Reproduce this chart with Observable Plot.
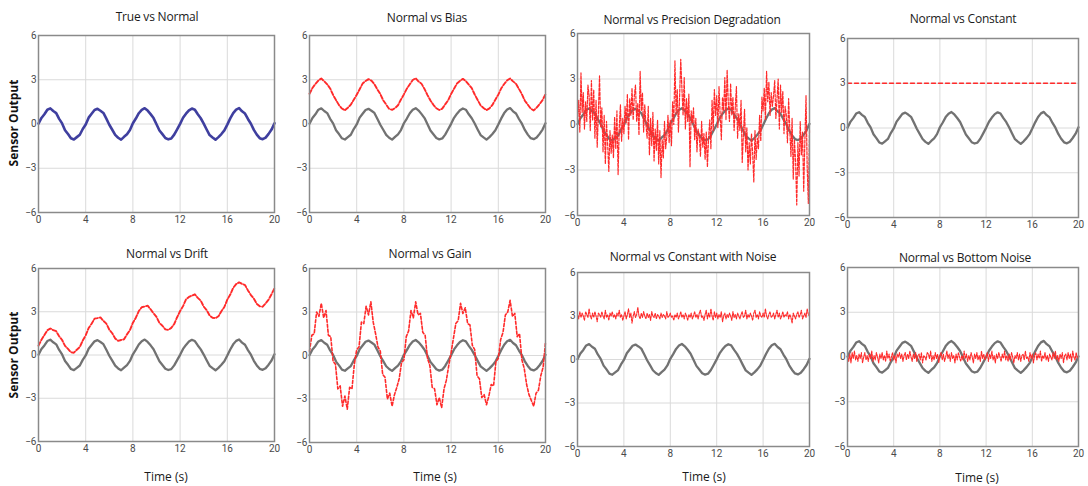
<!DOCTYPE html>
<html>
<head>
<meta charset="utf-8">
<script src="https://cdn.jsdelivr.net/npm/d3@7"></script>
<script src="https://cdn.jsdelivr.net/npm/@observablehq/plot@0.6"></script>
<style>
  html, body { margin: 0; padding: 0; background: #fff; }
  #root { position: relative; width: 1088px; height: 486px; overflow: hidden; background: #fff; font-family: "Open Sans", Roboto, sans-serif; }
  .ttl { position: absolute; font-size: 12px; color: #1a1a1a; white-space: nowrap; transform: translate(-50%, -50%); letter-spacing: -0.2px; }
  .xl { position: absolute; font-size: 12px; color: #1a1a1a; white-space: nowrap; transform: translate(-50%, -50%); }
  .yl { position: absolute; font-size: 12px; font-weight: bold; color: #111; white-space: nowrap; transform: translate(-50%, -50%) rotate(-90deg); }
  svg { position: absolute; overflow: visible; }
</style>
</head>
<body>
<div id="root"></div>
<script>
// ---- tick labels ----
const xTicks = [0, 4, 8, 12, 16, 20];
const yTicks = [-6, -3, 0, 3, 6];

// ---- panel titles ----
const titles = ["True vs Normal", "Normal vs Bias", "Normal vs Precision Degradation", "Normal vs Constant",
                "Normal vs Drift", "Normal vs Gain", "Normal vs Constant with Noise", "Normal vs Bottom Noise"];

// sample spacing (s) of each series
const stepCoarse = 0.25;
const stepGain = 0.2;
const stepFine = 0.1;

// normal sensor output (every 0.25 s)
const normal = [
  0.02, 0.41, 0.66, 0.97, 1.06, 0.88, 0.74, 0.35, 0.04, -0.42, -0.68, -0.97, -1.05, -0.89, -0.73, -0.34,
  -0.03, 0.43, 0.69, 0.95, 1.03, 0.90, 0.75, 0.36, -0.05, -0.39, -0.74, -0.93, -1.06, -0.87, -0.70, -0.41,
  0.05, 0.37, 0.73, 0.96, 1.07, 0.91, 0.67, 0.40, -0.02, -0.44, -0.69, -0.95, -1.04, -0.98, -0.72, -0.36,
  0.01, 0.42, 0.70, 0.93, 1.05, 0.97, 0.66, 0.39, 0.03, -0.37, -0.75, -0.91, -1.06, -0.89, -0.68, -0.43,
  -0.04, 0.38, 0.74, 0.98, 1.08, 0.86, 0.71, 0.34, 0.02, -0.40, -0.72, -0.96, -1.03, -0.92, -0.67, -0.38,
  0.05
];

// bias fault (every 0.25 s)
const bias = [
  2.05, 2.44, 2.72, 2.95, 3.08, 2.90, 2.69, 2.41, 1.97, 1.62, 1.28, 1.05, 0.93, 1.10, 1.31, 1.64,
  1.98, 2.36, 2.74, 2.91, 3.04, 2.94, 2.70, 2.35, 2.03, 1.60, 1.32, 1.02, 0.96, 1.08, 1.27, 1.66,
  2.01, 2.40, 2.69, 2.98, 3.10, 2.88, 2.72, 2.37, 1.96, 1.59, 1.30, 1.07, 0.95, 1.04, 1.33, 1.61,
  2.04, 2.39, 2.75, 2.92, 3.06, 2.91, 2.67, 2.43, 2.00, 1.63, 1.26, 1.09, 0.94, 1.06, 1.29, 1.65,
  1.99, 2.42, 2.71, 2.96, 3.09, 2.89, 2.73, 2.38, 2.02, 1.58, 1.31, 1.04, 0.92, 1.11, 1.35, 1.62,
  2.02
];

// drift fault (every 0.25 s)
const drift = [
  0.65, 1.06, 1.38, 1.71, 1.84, 1.73, 1.65, 1.30, 1.04, 0.63, 0.42, 0.19, 0.16, 0.37, 0.55, 1.01,
  1.36, 1.87, 2.17, 2.52, 2.56, 2.61, 2.37, 2.18, 1.76, 1.51, 1.15, 0.98, 1.04, 1.09, 1.43, 1.73,
  2.24, 2.59, 3.05, 3.31, 3.36, 3.42, 3.17, 2.89, 2.64, 2.22, 2.03, 1.78, 1.74, 1.88, 2.15, 2.62,
  3.05, 3.39, 3.86, 4.03, 4.12, 4.21, 3.96, 3.77, 3.36, 3.11, 2.74, 2.58, 2.55, 2.69, 3.04, 3.33,
  3.84, 4.19, 4.66, 4.92, 5.04, 4.93, 4.85, 4.48, 4.16, 3.91, 3.55, 3.38, 3.35, 3.58, 3.84, 4.22,
  4.63
];

// gain fault (every 0.2 s)
const gain = [
  0.3, 1.4, 1.5, 3.0, 2.7, 3.6, 2.6, 3.1, 1.4, 1.3, -0.4, -0.6, -2.3, -2.1, -3.5, -2.8, -3.7, -2.2, -2.3, -0.6,
  0.4, 0.6, 2.3, 2.2, 3.4, 2.8, 3.7, 2.3, 1.5, 0.6, 0.3, -1.3, -1.5, -3.0, -2.6, -3.5, -2.7, -2.2, -1.6, -0.5,
  -0.3, 1.3, 1.7, 3.1, 2.6, 3.7, 2.8, 2.9, 1.6, 1.4, -0.2, -0.7, -2.2, -2.3, -3.4, -2.9, -3.6, -2.3, -1.7, -0.7,
  0.2, 1.2, 2.2, 2.4, 3.6, 2.9, 3.3, 2.2, 2.1, 0.7, 0.4, -1.4, -1.6, -2.9, -2.7, -3.4, -2.8, -2.0, -2.1, -0.4,
  -0.2, 1.1, 1.6, 2.8, 3.0, 3.8, 2.7, 2.9, 1.3, 1.5, -0.3, -0.9, -2.0, -2.7, -3.1, -3.5, -2.6, -2.4, -1.4, -0.8,
  0.9
];

// precision degradation fault (every 0.1 s)
const precision = [
  0.4, 1.6, -0.5, 3.4, 0.8, 2.1, -0.3, 1.5, 0.2, 2.6,
  1.9, -0.4, 2.9, 0.3, 2.3, -0.9, 1.6, -1.5, 0.8, 3.2,
  -0.2, 1.1, -1.8, 0.6, -2.6, 0.2, -1.3, -3.1, -0.4, -1.9,
  -0.7, -2.2, 0.5, -1.6, 0.9, -3.3, -0.2, 1.3, -1.1, 0.4,
  -0.6, 1.2, 0.1, 2.0, -1.0, 1.7, 0.6, 2.4, 0.3, 1.9,
  2.6, 0.2, 1.4, -0.7, 3.5, 0.9, 2.1, -0.5, 1.3, 0.0,
  -0.9, 1.2, -2.0, 0.4, -1.4, 0.8, -2.4, -0.3, -1.7, 0.3,
  -2.6, -0.4, -3.5, -1.0, -2.2, 0.2, -1.6, -0.8, 0.6, -1.2,
  0.3, -1.4, 1.5, 0.0, 4.2, 0.7, 2.3, -0.5, 1.8, 4.3,
  2.4, 0.6, 3.1, -0.3, 1.7, 0.2, 2.0, -2.8, 0.9, 0.1,
  1.1, -1.0, 0.4, -1.8, -0.3, -0.8, -2.1, 0.2, -1.5, -0.6,
  -2.3, -0.5, -2.8, -0.9, 0.3, -1.6, 1.6, -0.4, 2.3, 0.6,
  1.9, -0.2, 2.5, 0.6, -1.0, 1.8, 0.9, 3.1, 0.3, 3.6,
  1.4, 0.2, 2.7, 0.6, 1.8, -0.4, 1.1, 2.5, -0.9, 0.7,
  -0.4, 1.6, -2.5, -0.7, 1.0, -1.8, -0.2, -3.0, -1.2, -2.6,
  -0.6, -1.9, -3.8, -0.4, -2.3, -0.9, -1.6, 0.6, -1.1, 1.8,
  0.9, 2.4, 0.3, 3.5, 1.5, 2.8, 0.6, 2.1, 1.2, 1.9,
  2.9, 0.4, 1.7, 3.0, -0.3, 2.6, 0.8, 2.2, -0.6, 1.2,
  0.6, -1.2, 1.7, -0.3, -2.1, 0.4, -3.6, -1.0, -2.4, -5.3,
  -1.2, -3.4, 0.2, -2.0, -0.5, -4.4, -1.1, 1.9, -2.8, -5.2,
  -0.4
];

// constant fault (start, end)
const constant = [3, 3];
const constantTimes = [0, 20];

// constant with noise fault (every 0.1 s)
const constNoise = [
  3.1, 2.8, 3.3, 2.9, 3.2, 3.0, 2.7, 3.3, 3.1, 2.9,
  3.5, 3.0, 2.8, 3.2, 2.9, 3.3, 3.0, 2.6, 3.2, 3.1,
  2.9, 3.3, 3.0, 2.8, 3.4, 2.9, 3.1, 2.7, 3.2, 3.0,
  3.3, 2.9, 3.1, 2.8, 3.2, 3.0, 3.4, 2.9, 3.1, 2.7,
  3.0, 3.3, 2.8, 3.1, 3.5, 2.9, 3.2, 2.5, 3.0, 3.3,
  2.9, 3.1, 3.6, 3.0, 2.8, 3.2, 2.9, 3.3, 3.0, 2.8,
  3.2, 2.9, 3.1, 2.7, 3.3, 3.0, 2.9, 3.2, 2.8, 3.1,
  3.0, 2.8, 3.2, 2.9, 3.1, 3.0, 2.8, 3.3, 2.9, 3.0,
  3.2, 2.9, 3.0, 2.7, 3.1, 2.9, 3.2, 2.8, 3.0, 3.3,
  2.9, 3.1, 2.8, 3.2, 3.0, 2.7, 3.1, 2.9, 3.2, 2.8,
  3.0, 3.3, 2.9, 3.1, 2.8, 3.2, 3.4, 2.9, 3.0, 2.7,
  3.1, 3.4, 2.8, 3.2, 2.9, 3.5, 3.0, 2.7, 3.3, 2.9,
  3.2, 2.8, 3.1, 2.9, 3.3, 2.6, 3.0, 3.2, 2.8, 3.1,
  2.9, 3.2, 3.0, 2.7, 3.3, 2.9, 3.1, 2.8, 3.2, 3.0,
  2.8, 3.1, 3.3, 2.9, 3.0, 3.4, 2.8, 3.1, 2.9, 3.2,
  3.0, 2.7, 3.2, 3.4, 2.9, 3.1, 2.8, 3.3, 3.0, 2.9,
  3.2, 2.9, 3.5, 3.0, 2.8, 3.1, 3.3, 2.9, 3.0, 3.2,
  2.8, 3.1, 3.4, 2.9, 3.2, 2.8, 3.0, 3.3, 2.9, 3.1,
  3.0, 3.3, 2.8, 3.1, 2.9, 2.5, 3.2, 3.0, 2.8, 3.1,
  3.3, 2.9, 3.1, 3.4, 2.8, 3.0, 3.2, 2.9, 3.5, 3.1,
  3.0
];

// bottom noise fault (every 0.1 s)
const bottomNoise = [
  0.1, -0.3, 0.2, -0.4, 0.3, -0.1, 0.4, -0.2, 0.1, -0.3,
  0.2, -0.1, 0.3, -0.4, 0.0, 0.3, -0.2, 0.1, -0.3, 0.2,
  -0.1, 0.4, -0.3, 0.1, -0.2, 0.3, 0.0, -0.4, 0.2, -0.1,
  0.3, -0.2, 0.1, -0.3, 0.4, -0.1, 0.2, -0.3, 0.0, 0.3,
  -0.2, 0.1, -0.4, 0.2, 0.0, 0.3, -0.1, 0.2, -0.3, 0.1,
  0.3, -0.2, 0.2, -0.1, 0.4, 0.0, -0.3, 0.2, -0.1, 0.3,
  -0.3, 0.1, 0.2, -0.2, 0.3, -0.4, 0.1, 0.0, -0.2, 0.3,
  0.2, -0.1, 0.4, -0.3, 0.1, -0.2, 0.3, -0.1, 0.2, -0.4,
  0.1, 0.3, -0.2, 0.2, -0.3, 0.0, 0.4, -0.1, 0.2, -0.3,
  0.3, -0.1, 0.1, -0.4, 0.2, -0.2, 0.3, 0.0, -0.3, 0.1,
  -0.2, 0.4, -0.1, 0.2, -0.3, 0.1, -0.2, 0.3, 0.0, -0.4,
  0.2, -0.1, 0.3, -0.2, 0.1, -0.3, 0.4, -0.1, 0.2, -0.2,
  0.0, 0.3, -0.3, 0.2, -0.1, 0.4, -0.2, 0.1, -0.4, 0.2,
  -0.1, 0.3, 0.0, -0.3, 0.2, -0.1, 0.4, -0.2, 0.1, -0.3,
  0.2, -0.2, 0.3, 0.0, -0.4, 0.1, -0.1, 0.3, -0.2, 0.2,
  -0.3, 0.1, 0.2, -0.2, 0.4, -0.1, 0.0, -0.3, 0.3, -0.1,
  0.2, -0.4, 0.1, 0.3, -0.2, 0.2, -0.1, 0.4, -0.3, 0.1,
  -0.1, 0.3, -0.2, 0.1, -0.3, 0.2, 0.0, -0.2, 0.3, -0.1,
  0.4, -0.2, 0.1, -0.3, 0.2, -0.1, 0.3, -0.4, 0.1, 0.2,
  -0.2, 0.3, -0.1, 0.2, -0.3, 0.4, 0.0, -0.2, 0.3, -0.1,
  0.1
];

// ---- styling ----
const GRAY = "#727272";
const BLUE = "#3f3f9f";
const RED = "#ff2a2a";

const root = document.getElementById("root");

function series(values, step) {
  return values.map((v, i) => ({ t: i * step, v }));
}
const normalLine = () => Plot.line(series(normal, stepCoarse), { x: "t", y: "v", stroke: GRAY, strokeWidth: 2.3 });
const redLine = (values, step, w = 1.3, dash = "3,2") =>
  Plot.line(series(values, step), { x: "t", y: "v", stroke: RED, strokeWidth: w, strokeDasharray: dash });

function panel({ L, R, T, B, marks }) {
  const ml = 22, mr = 8, mt = 6, mb = 18;
  const svg = Plot.plot({
    width: R - L + ml + mr,
    height: B - T + mt + mb,
    marginLeft: ml, marginRight: mr, marginTop: mt, marginBottom: mb,
    x: { domain: [0, 20] },
    y: { domain: [-6, 6] },
    style: { fontFamily: "Roboto, sans-serif", fontSize: "10px", color: "#4a4a4a", background: "transparent", overflow: "visible" },
    marks: [
      Plot.gridX(xTicks, { stroke: "#dadada", strokeOpacity: 1 }),
      Plot.gridY(yTicks, { stroke: "#dadada", strokeOpacity: 1 }),
      Plot.axisX(xTicks, { tickSize: 0, tickPadding: 3, label: null }),
      Plot.axisY(yTicks, { tickSize: 0, tickPadding: 2, label: null }),
      ...marks,
      Plot.frame({ stroke: "#8a8a8a", strokeWidth: 1.5 })
    ]
  });
  svg.style.left = (L - ml) + "px";
  svg.style.top = (T - mt) + "px";
  root.appendChild(svg);
}

function label(cls, text, x, y) {
  const d = document.createElement("div");
  d.className = cls;
  d.textContent = text;
  d.style.left = x + "px";
  d.style.top = y + "px";
  root.appendChild(d);
}

// ---- panels ----
panel({ L: 38, R: 274, T: 35, B: 212,
  marks: [Plot.line(series(normal, stepCoarse), { x: "t", y: "v", stroke: BLUE, strokeWidth: 2.6 })] });
panel({ L: 309, R: 545, T: 35, B: 212,
  marks: [normalLine(), redLine(bias, stepCoarse, 1.9, "4,2")] });
panel({ L: 577, R: 809, T: 33, B: 215,
  marks: [normalLine(), redLine(precision, stepFine, 1.2, "3,1.5")] });
panel({ L: 847, R: 1078, T: 38, B: 217,
  marks: [normalLine(),
          Plot.line(constant.map((v, i) => ({ t: constantTimes[i], v })), { x: "t", y: "v", stroke: RED, strokeWidth: 1.3, strokeDasharray: "4,3" })] });

panel({ L: 38, R: 274, T: 268, B: 441,
  marks: [normalLine(), redLine(drift, stepCoarse, 1.9, "4,2")] });
panel({ L: 309, R: 545, T: 268, B: 442,
  marks: [normalLine(), redLine(gain, stepGain, 1.6, "3,2")] });
panel({ L: 577, R: 809, T: 272, B: 446,
  marks: [normalLine(), redLine(constNoise, stepFine, 1.1, "2,1")] });
panel({ L: 847, R: 1078, T: 267, B: 446,
  marks: [normalLine(), redLine(bottomNoise, stepFine, 1.1, "2,1")] });

// ---- titles & axis labels ----
const titlePos = [[157, 16], [427, 17], [692, 19], [963, 18], [167, 253], [430, 253], [693, 256], [965, 257]];
titles.forEach((t, i) => label("ttl", t, titlePos[i][0], titlePos[i][1]));
label("yl", "Sensor Output", 13, 123);
label("yl", "Sensor Output", 13, 355);
label("xl", "Time (s)", 166, 476);
label("xl", "Time (s)", 435, 476);
label("xl", "Time (s)", 704, 476);
label("xl", "Time (s)", 977, 477);
</script>
</body>
</html>
